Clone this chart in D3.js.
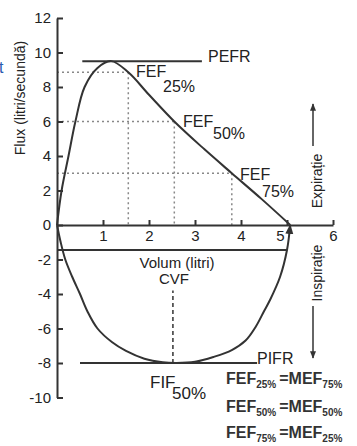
<!DOCTYPE html>
<html>
<head>
<meta charset="utf-8">
<script src="https://cdn.jsdelivr.net/npm/d3@7"></script>
<style>
  body { margin: 0; background: #fff; }
  svg { display: block; font-family: Arial, 'Liberation Sans', sans-serif; }
</style>
</head>
<body>
<div id="chart"></div>
<script>
// axis ticks
const xTicks = [1, 2, 3, 4, 5, 6];
const yTicks = [12, 10, 8, 6, 4, 2, 0, -2, -4, -6, -8, -10];

// flow-volume loop: [volume (l), flow (l/s)]
const expiration = [
  [0, 0], [0.1, 2], [0.25, 4], [0.4, 6], [0.6, 8], [0.88, 9.1], [1.18, 9.5],
  [1.55, 8.85], [2.0, 7.55], [2.55, 6.0], [3.2, 4.4], [3.8, 3.0], [4.45, 1.5], [5.07, 0]
];
const inspiration = [
  [0, 0], [0.08, -1], [0.18, -2], [0.33, -3], [0.5, -4], [0.66, -5], [0.88, -6],
  [1.2, -6.8], [1.5, -7.3], [1.9, -7.75], [2.3, -7.96], [2.6, -8.0], [3.0, -7.93],
  [3.4, -7.65], [3.8, -7.25], [4.1, -6.7], [4.32, -5.9], [4.5, -5.0], [4.63, -4.35],
  [4.85, -3.0], [5.0, -1.45], [5.07, 0]
];

// FEF points on the expiratory limb
const fefLabels = ['25%', '50%', '75%'];
const fefVolume = [1.55, 2.55, 3.8];
const fefFlow = [8.85, 6.0, 3.0];

// peak flows, FIF50 and the volume bracket
const pefr = { flow: 9.5, from: 0.55, to: 3.15 };
const pifr = { flow: -8, from: 0.5, to: 4.35 };
const fif50 = { volume: 2.52, from: -8, to: -3.8 };
const cvfBracket = { flow: -1.45, to: 5.0 };

// equalities listed bottom right
const fefSubs = ['25%', '50%', '75%'];
const mefSubs = ['75%', '50%', '25%'];

const width = 357;
const height = 446;
const ink = '#333';

const svg = d3.select('#chart').append('svg')
  .attr('width', width)
  .attr('height', height);

const defs = svg.append('defs');
defs.append('marker')
  .attr('id', 'arrow')
  .attr('viewBox', '0 0 10 10')
  .attr('refX', 9)
  .attr('refY', 5)
  .attr('markerWidth', 5)
  .attr('markerHeight', 5)
  .attr('orient', 'auto')
  .append('path')
  .attr('d', 'M0,1 L10,5 L0,9 Z')
  .attr('fill', ink);

const x = d3.scaleLinear().domain([0, 6]).range([57, 333]);
const y = d3.scaleLinear().domain([-10, 12]).range([397.5, 18]);

// dotted guide lines for FEF25/50/75
const guides = svg.append('g')
  .attr('stroke', '#888')
  .attr('stroke-width', 1.5)
  .attr('stroke-dasharray', '2,3')
  .attr('fill', 'none');
fefVolume.forEach((v, i) => {
  guides.append('line')
    .attr('x1', x(0)).attr('y1', y(fefFlow[i]))
    .attr('x2', x(v)).attr('y2', y(fefFlow[i]));
  guides.append('line')
    .attr('x1', x(v)).attr('y1', y(fefFlow[i]))
    .attr('x2', x(v)).attr('y2', y(0));
});

// FIF50 dashed line
svg.append('line')
  .attr('x1', x(fif50.volume)).attr('y1', y(fif50.from))
  .attr('x2', x(fif50.volume)).attr('y2', y(fif50.to))
  .attr('stroke', ink)
  .attr('stroke-width', 1.5)
  .attr('stroke-dasharray', '4,3');

// plain hyphen for negatives, as in the original
const fmt = d => String(d);

// y axis, ticks pointing inward
const yAxis = svg.append('g')
  .attr('transform', `translate(${x(0)},0)`)
  .call(d3.axisLeft(y).tickValues(yTicks).tickFormat(fmt)
    .tickSizeInner(-6).tickSizeOuter(0).tickPadding(6));

// x axis, ticks pointing up
const xAxis = svg.append('g')
  .attr('transform', `translate(0,${y(0)})`)
  .call(d3.axisBottom(x).tickValues(xTicks).tickFormat(fmt)
    .tickSizeInner(-5).tickSizeOuter(0).tickPadding(5));

[xAxis, yAxis].forEach(a => {
  a.attr('font-family', null).attr('font-size', 15);
  a.select('.domain').attr('stroke', ink).attr('stroke-width', 2);
  a.selectAll('.tick line').attr('stroke', ink).attr('stroke-width', 2);
  a.selectAll('.tick text').attr('fill', '#222');
});
xAxis.selectAll('.tick text').attr('dx', d => (d === 5 ? -7 : 0));

// lower edge of the volume bracket
svg.append('line')
  .attr('x1', x(0)).attr('y1', y(cvfBracket.flow))
  .attr('x2', x(cvfBracket.to)).attr('y2', y(cvfBracket.flow))
  .attr('stroke', ink)
  .attr('stroke-width', 2);

// PEFR and PIFR lines
[pefr, pifr].forEach(p => {
  svg.append('line')
    .attr('x1', x(p.from)).attr('y1', y(p.flow))
    .attr('x2', x(p.to)).attr('y2', y(p.flow))
    .attr('stroke', ink)
    .attr('stroke-width', 2);
});

// loop
const line = d3.line()
  .x(d => x(d[0]))
  .y(d => y(d[1]))
  .curve(d3.curveCatmullRom.alpha(0.5));

svg.append('path')
  .datum(expiration)
  .attr('d', line)
  .attr('fill', 'none')
  .attr('stroke', ink)
  .attr('stroke-width', 2);

svg.append('path')
  .datum(inspiration)
  .attr('d', line)
  .attr('fill', 'none')
  .attr('stroke', ink)
  .attr('stroke-width', 2)
  .attr('marker-end', 'url(#arrow)');

// texts
const txt = (s, tx, ty, size, opts = {}) => svg.append('text')
  .attr('x', tx)
  .attr('y', ty)
  .attr('font-size', size)
  .attr('fill', opts.fill || '#222')
  .attr('font-weight', opts.weight || 'normal')
  .attr('text-anchor', opts.anchor || 'start')
  .text(s);

// clipped letter at the left edge of the original image
txt('t', -1, 73, 16, { fill: '#2a5cb0' });

svg.append('text')
  .attr('transform', 'translate(25,98) rotate(-90)')
  .attr('text-anchor', 'middle')
  .attr('font-size', 14)
  .attr('fill', '#222')
  .text('Flux (litri/secundă)');

txt('PEFR', 208, 62, 16);
txt('PIFR', 257, 364, 16);

const fefPos = [[136, 77, 163, 92], [183, 127, 213, 139], [240, 180, 262, 197]];
fefLabels.forEach((l, i) => {
  const p = fefPos[i];
  txt('FEF', p[0], p[1], 16);
  txt(l, p[2], p[3], 16);
});

txt('Volum (litri)', 177, 268, 15, { anchor: 'middle' });
txt('CVF', 174, 284, 15, { anchor: 'middle' });

txt('FIF', 150, 388, 17);
txt('50%', 172, 399, 17);

// expiration / inspiration side labels with arrows
svg.append('text')
  .attr('transform', 'translate(322,181) rotate(-90)')
  .attr('text-anchor', 'middle')
  .attr('font-size', 14)
  .attr('fill', '#222')
  .text('Expirație');
svg.append('text')
  .attr('transform', 'translate(322,273) rotate(-90)')
  .attr('text-anchor', 'middle')
  .attr('font-size', 14)
  .attr('fill', '#222')
  .text('Inspirație');

svg.append('line')
  .attr('x1', 313).attr('y1', 146)
  .attr('x2', 313).attr('y2', 104)
  .attr('stroke', ink).attr('stroke-width', 1.5)
  .attr('marker-end', 'url(#arrow)');
svg.append('line')
  .attr('x1', 313).attr('y1', 306)
  .attr('x2', 313).attr('y2', 358)
  .attr('stroke', ink).attr('stroke-width', 1.5)
  .attr('marker-end', 'url(#arrow)');

// FEF = MEF list
const rowY = [384, 412, 438];
fefSubs.forEach((s, i) => {
  const t = svg.append('text')
    .attr('x', 226)
    .attr('y', rowY[i])
    .attr('font-size', 16)
    .attr('font-weight', 'bold')
    .attr('fill', '#333');
  t.append('tspan').text('FEF');
  t.append('tspan').attr('dy', 4).attr('font-size', 10).text(s);
  t.append('tspan').attr('dy', -4).attr('dx', 3).text('=MEF');
  t.append('tspan').attr('dy', 4).attr('font-size', 10).text(mefSubs[i]);
});
</script>
</body>
</html>
